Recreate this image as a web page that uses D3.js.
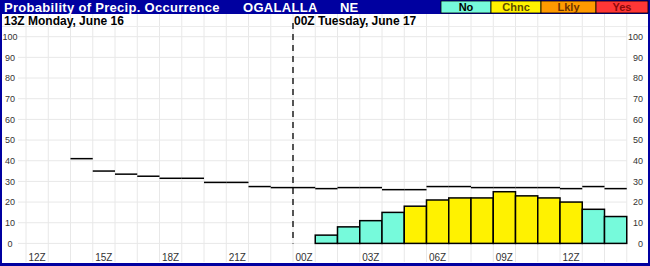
<!DOCTYPE html>
<html>
<head>
<meta charset="utf-8">
<script src="https://cdn.jsdelivr.net/npm/d3@7"></script>
<style>
  body { margin: 0; background: #fff; }
  svg { display: block; font-family: Arial, "Liberation Sans", sans-serif; }
</style>
</head>
<body>
<script>
// hourly cells, 12Z monday to 14Z tuesday
const hourLabels = ['12Z','13Z','14Z','15Z','16Z','17Z','18Z','19Z','20Z','21Z','22Z','23Z',
                    '00Z','01Z','02Z','03Z','04Z','05Z','06Z','07Z','08Z','09Z','10Z','11Z','12Z','13Z','14Z']
const tickHours = [0, 3, 6, 9, 12, 15, 18, 21, 24]
const startHour = 2
// step line (black) per hour from 14Z
const lineValues = [41, 35, 33.5, 32.5, 31.5, 31.5, 29.5, 29.5, 27.5, 27, 27,
                    26.5, 27, 27, 26, 26, 27.5, 27.5, 27, 27, 27, 27, 26.5, 27.5, 26.5]
// probability bars per hour from 14Z
const barValues = [0, 0, 0, 0, 0, 0, 0, 0, 0, 0, 0,
                   4, 8, 11, 15, 18, 21, 22, 22, 25, 23, 22, 20, 16.5, 13]
const yTicks = [0, 10, 20, 30, 40, 50, 60, 70, 80, 90, 100]
const legendNames = ['No', 'Chnc', 'Lkly', 'Yes']
const legendColors = ['#76fadb', '#fff200', '#ff9a00', '#ff3636']
const legendText = ['#000', '#5c4a00', '#6e3300', '#8a0a0a']

function popChart() {
    const width = 650
    const height = 266
    const navy = '#0000a0'

    const svg = d3.select('body')
        .append('svg')
        .attr('width', width)
        .attr('height', height)

    // frame and title bar
    svg.append('rect').attr('width', width).attr('height', height).attr('fill', navy)
    svg.append('rect').attr('x', 2).attr('y', 14).attr('width', width - 4).attr('height', 249).attr('fill', '#fff')

    const x = d3.scaleLinear().domain([0, hourLabels.length]).range([26, 626.75])
    const y = d3.scaleLinear().domain([0, 100]).range([243.4, 36.7])
    const cat = d3.scaleThreshold().domain([17.5, 55, 75]).range(legendColors)

    // grid
    svg.append('g').selectAll('line')
        .data(d3.range(hourLabels.length + 1))
        .enter().append('line')
        .attr('x1', d => x(d)).attr('x2', d => x(d))
        .attr('y1', 14).attr('y2', 262)
        .attr('stroke', '#e8e8e8')

    svg.append('g').selectAll('line')
        .data(yTicks)
        .enter().append('line')
        .attr('x1', 18).attr('x2', x(hourLabels.length))
        .attr('y1', d => y(d)).attr('y2', d => y(d))
        .attr('stroke', '#e8e8e8')

    svg.append('line')
        .attr('x1', 2).attr('x2', width - 2)
        .attr('y1', 26.5).attr('y2', 26.5)
        .attr('stroke', '#ececec')

    // y labels both sides
    svg.append('g').selectAll('text')
        .data(yTicks)
        .enter().append('text')
        .attr('x', 10).attr('y', d => y(d))
        .attr('dy', '.35em')
        .attr('text-anchor', 'middle')
        .attr('font-size', 9).attr('fill', '#333')
        .text(d => d)

    svg.append('g').selectAll('text')
        .data(yTicks)
        .enter().append('text')
        .attr('x', 643).attr('y', d => y(d))
        .attr('dy', '.35em')
        .attr('text-anchor', 'end')
        .attr('font-size', 9).attr('fill', '#333')
        .text(d => d)

    // hour labels
    svg.append('g').selectAll('text')
        .data(tickHours)
        .enter().append('text')
        .attr('x', d => x(d + 0.5)).attr('y', 257)
        .attr('dy', '.35em')
        .attr('text-anchor', 'middle')
        .attr('font-size', 10).attr('fill', '#333')
        .text(d => hourLabels[d])

    // bars
    svg.append('g').selectAll('rect')
        .data(barValues)
        .enter().append('rect')
        .attr('x', (d, i) => x(startHour + i))
        .attr('width', x(1) - x(0))
        .attr('y', d => y(d))
        .attr('height', d => y(0) - y(d))
        .attr('fill', d => cat(d))
        .attr('stroke', '#000')
        .attr('stroke-width', 1.5)

    // step line
    svg.append('g').selectAll('line')
        .data(lineValues)
        .enter().append('line')
        .attr('x1', (d, i) => x(startHour + i))
        .attr('x2', (d, i) => x(startHour + i + 1))
        .attr('y1', d => y(d)).attr('y2', d => y(d))
        .attr('stroke', '#000')
        .attr('stroke-width', 1.5)

    // day break
    svg.append('line')
        .attr('x1', x(12)).attr('x2', x(12))
        .attr('y1', 23).attr('y2', y(0))
        .attr('stroke', '#000')
        .attr('stroke-width', 1.3)
        .attr('stroke-dasharray', '6,5')

    // day captions
    svg.append('text').attr('x', 4).attr('y', 25)
        .attr('font-size', 12).attr('font-weight', 'bold').text('13Z Monday, June 16')
    svg.append('text').attr('x', x(12) + 1).attr('y', 25)
        .attr('font-size', 12).attr('font-weight', 'bold').text('00Z Tuesday, June 17')

    // title
    svg.append('text').attr('x', 4).attr('y', 11.5)
        .attr('font-size', 13).attr('font-weight', 'bold').attr('fill', '#fff')
        .attr('letter-spacing', 0.3)
        .text('Probability of Precip. Occurrence')
    svg.append('text').attr('x', 243).attr('y', 11.5)
        .attr('font-size', 13).attr('font-weight', 'bold').attr('fill', '#fff')
        .attr('letter-spacing', 0.3)
        .text('OGALALLA')
    svg.append('text').attr('x', 340).attr('y', 11.5)
        .attr('font-size', 13).attr('font-weight', 'bold').attr('fill', '#fff')
        .text('NE')

    // legend
    const legendX = [441, 491, 541, 596, 648]
    const legend = svg.append('g').selectAll('g')
        .data(legendNames)
        .enter().append('g')

    legend.append('rect')
        .attr('x', (d, i) => legendX[i]).attr('y', 1)
        .attr('width', (d, i) => legendX[i + 1] - legendX[i]).attr('height', 12)
        .attr('fill', (d, i) => legendColors[i])
        .attr('stroke', '#000').attr('stroke-width', 0.8)

    legend.append('text')
        .attr('x', (d, i) => (legendX[i] + legendX[i + 1]) / 2).attr('y', 11)
        .attr('text-anchor', 'middle')
        .attr('font-size', 11).attr('font-weight', 'bold')
        .attr('fill', (d, i) => legendText[i])
        .text(d => d)
}

popChart()
</script>
</body>
</html>
